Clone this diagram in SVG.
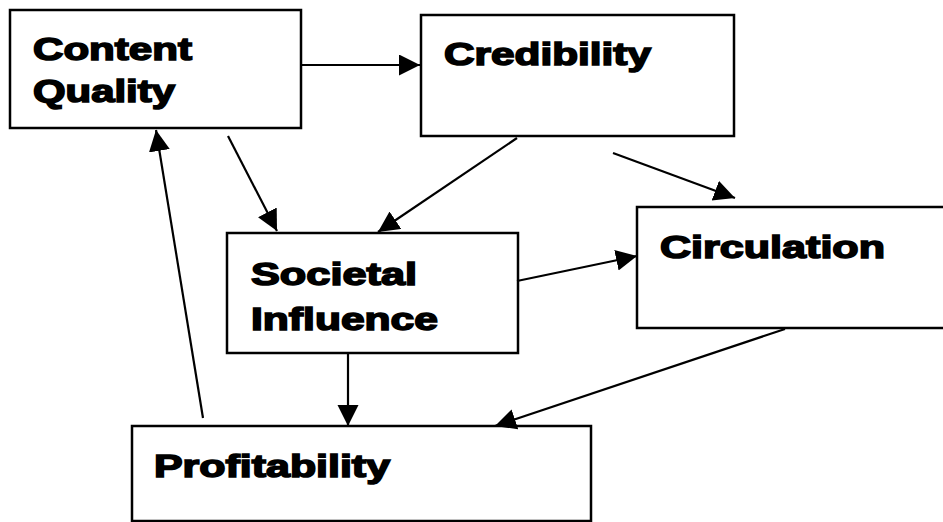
<svg xmlns="http://www.w3.org/2000/svg" width="943" height="522" viewBox="0 0 943 522">
  <style>
    .box { fill: #ffffff; stroke: #000000; stroke-width: 2.5; }
    .lbl { font-family: "Liberation Sans", Arial, Helvetica, sans-serif; font-weight: bold; font-size: 32px; fill: #000000; stroke: #000000; stroke-width: 1.6; paint-order: stroke; }
    .link { fill: none; stroke: #000000; stroke-width: 2.2; }
  </style>
  <defs>
    <marker id="arrow" markerUnits="userSpaceOnUse" markerWidth="23" markerHeight="22" refX="21" refY="10.5" orient="auto">
      <path d="M0,0 L21,10.5 L0,21 z" fill="#000000"/>
    </marker>
  </defs>
  <rect width="943" height="522" fill="#ffffff"/>

  <g id="node-content-quality">
    <rect class="box" x="10" y="10" width="291" height="118"/>
    <text class="lbl" x="33" y="60" textLength="159" lengthAdjust="spacingAndGlyphs">Content</text>
    <text class="lbl" x="33" y="102" textLength="142" lengthAdjust="spacingAndGlyphs">Quality</text>
  </g>

  <g id="node-credibility">
    <rect class="box" x="421" y="15" width="313" height="121"/>
    <text class="lbl" x="444" y="65" textLength="207" lengthAdjust="spacingAndGlyphs">Credibility</text>
  </g>

  <g id="node-societal-influence">
    <rect class="box" x="227" y="233" width="291" height="120"/>
    <text class="lbl" x="251" y="285" textLength="166" lengthAdjust="spacingAndGlyphs">Societal</text>
    <text class="lbl" x="251" y="330" textLength="187" lengthAdjust="spacingAndGlyphs">Influence</text>
  </g>

  <g id="node-circulation">
    <rect class="box" x="637" y="207" width="320" height="121"/>
    <text class="lbl" x="660" y="258" textLength="225" lengthAdjust="spacingAndGlyphs">Circulation</text>
  </g>

  <g id="node-profitability">
    <rect class="box" x="132" y="426" width="459" height="95"/>
    <text class="lbl" x="154" y="477" textLength="236" lengthAdjust="spacingAndGlyphs">Profitability</text>
  </g>

  <g id="connectors">
    <line class="link" x1="301" y1="65" x2="420" y2="65" marker-end="url(#arrow)"/>
    <line class="link" x1="228" y1="136" x2="277" y2="231" marker-end="url(#arrow)"/>
    <line class="link" x1="517" y1="138" x2="378" y2="232" marker-end="url(#arrow)"/>
    <line class="link" x1="613" y1="153" x2="735" y2="198" marker-end="url(#arrow)"/>
    <line class="link" x1="517" y1="281" x2="637" y2="256" marker-end="url(#arrow)"/>
    <line class="link" x1="348" y1="353" x2="348" y2="426" marker-end="url(#arrow)"/>
    <line class="link" x1="785" y1="329" x2="495" y2="426" marker-end="url(#arrow)"/>
    <line class="link" x1="203" y1="418" x2="156" y2="130" marker-end="url(#arrow)"/>
  </g>
</svg>
